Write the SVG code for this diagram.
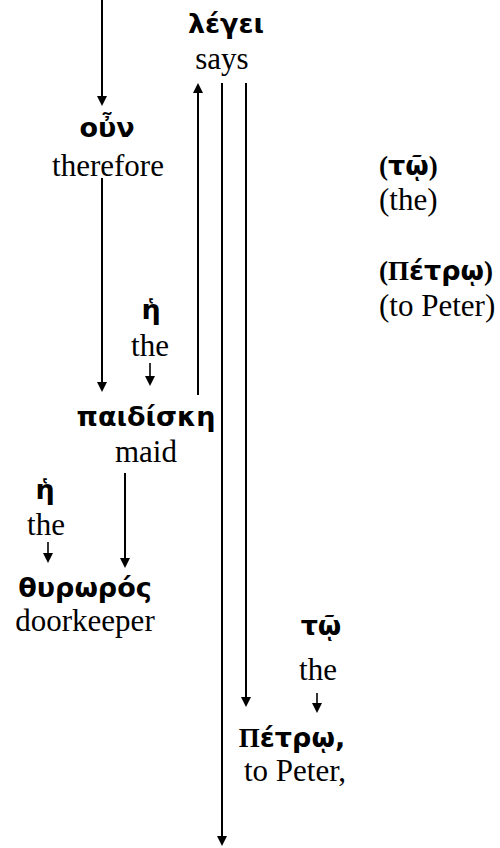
<svg xmlns="http://www.w3.org/2000/svg" width="500" height="848" viewBox="0 0 500 848">
  <style>
    .gk { font-family: "DejaVu Sans", "Noto Sans", sans-serif; font-weight: bold; font-size: 27px; fill: #000; }
    .gs { font-family: "Liberation Serif", serif; font-weight: bold; }
    .en { font-family: "Liberation Serif", "Times New Roman", serif; font-size: 31px; fill: #000; }
    .c { text-anchor: middle; }
    .ln { stroke: #000; stroke-width: 2; fill: none; }
    .sm { stroke: #000; stroke-width: 1.6; fill: none; }
  </style>
  <defs>
    <marker id="ah" markerUnits="userSpaceOnUse" viewBox="0 0 10 10" markerWidth="10" markerHeight="10" refX="2" refY="5" orient="auto">
      <path d="M0,0 L10,5 L0,10 z" fill="#000"/>
    </marker>
  </defs>

  <!-- connectors -->
  <g id="connectors">
    <line class="ln" x1="102" y1="0" x2="102" y2="98" marker-end="url(#ah)"/>
    <line class="ln" x1="102" y1="178" x2="102" y2="384" marker-end="url(#ah)"/>
    <line class="ln" x1="198" y1="395" x2="198" y2="91" marker-end="url(#ah)"/>
    <line class="ln" x1="222" y1="83" x2="222" y2="838" marker-end="url(#ah)"/>
    <line class="ln" x1="246" y1="83" x2="246" y2="699" marker-end="url(#ah)"/>
    <line class="sm" x1="150" y1="363" x2="150" y2="378" marker-end="url(#ah)"/>
    <line class="ln" x1="125" y1="473" x2="125" y2="560" marker-end="url(#ah)"/>
    <line class="sm" x1="48" y1="542" x2="48" y2="555" marker-end="url(#ah)"/>
    <line class="sm" x1="317" y1="693" x2="317" y2="705" marker-end="url(#ah)"/>
  </g>

  <g id="legei">
    <text class="gk c" x="226" y="33">λέγει</text>
    <text class="en c" x="222" y="69">says</text>
  </g>

  <g id="oun">
    <text class="gk c" x="107" y="137">οὖν</text>
    <text class="en c" x="108" y="176">therefore</text>
  </g>

  <g id="he-1">
    <text class="gk c" x="151" y="319">ἡ</text>
    <text class="en c" x="150" y="356">the</text>
  </g>

  <g id="paidiske">
    <text class="gk c" x="146" y="426">παιδίσκη</text>
    <text class="en c" x="146" y="462">maid</text>
  </g>

  <g id="he-2">
    <text class="gk c" x="45" y="499">ἡ</text>
    <text class="en c" x="46" y="535">the</text>
  </g>

  <g id="thyroros">
    <text class="gk c" x="85" y="597">θυρωρός</text>
    <text class="en c" x="85" y="631">doorkeeper</text>
  </g>

  <g id="to-implied">
    <text class="gk" x="379" y="175"><tspan class="gs">(</tspan>τῷ<tspan class="gs">)</tspan></text>
    <text class="en" x="379" y="210">(the)</text>
  </g>

  <g id="petro-implied">
    <text class="gk" x="379" y="280"><tspan class="gs">(Π</tspan>έτρῳ<tspan class="gs">)</tspan></text>
    <text class="en" x="379" y="316">(to Peter)</text>
  </g>

  <g id="to">
    <text class="gk c" x="321" y="635">τῷ</text>
    <text class="en c" x="318" y="680">the</text>
  </g>

  <g id="petro">
    <text class="gk c" x="292" y="747"><tspan class="gs">Π</tspan>έτρῳ,</text>
    <text class="en c" x="295" y="781">to Peter,</text>
  </g>
</svg>
